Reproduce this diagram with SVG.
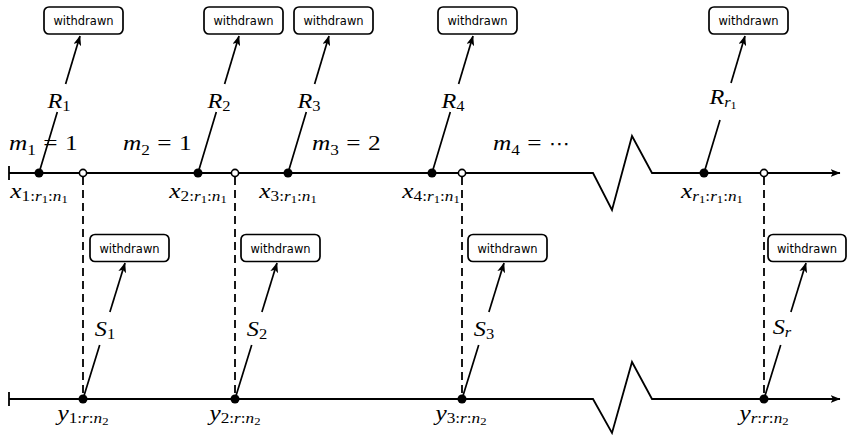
<svg xmlns="http://www.w3.org/2000/svg" width="847" height="438" viewBox="0 0 847 438">
<style>
.ax{fill:none;stroke:#000;stroke-width:1.8}
.ln{fill:none;stroke:#000;stroke-width:1.7}
.ar{fill:none;stroke:#000;stroke-width:1.7;marker-end:url(#ah)}
.dash{fill:none;stroke:#000;stroke-width:1.8;stroke-dasharray:8,5}
.box{fill:#fff;stroke:#000;stroke-width:1.7}
.bt{font-family:"DejaVu Sans",sans-serif;font-size:11.5px;text-anchor:middle;fill:#000}
.m{font-family:"Liberation Serif",serif;font-size:22px;font-style:italic;fill:#000}
.u{font-style:normal}
.s{font-size:15px}
.ss{font-size:11px}
.dot{fill:#000}
.oc{fill:#fff;stroke:#000;stroke-width:1.6}
</style>
<defs>
<marker id="ah" viewBox="0 0 10 8" refX="9.5" refY="4" markerWidth="10" markerHeight="8" markerUnits="userSpaceOnUse" orient="auto">
<path d="M0,0 L10,4 L0,8 L2.5,4 z" fill="#000"/>
</marker>
</defs>
<g id="connectors">
<path class="ax" d="M9,166 V180 M9,173 H593 L612,210 L632,136 L652,173 H840" marker-end="url(#ah)"/>
<path class="ax" d="M9,392 V406 M9,399 H593 L612,433 L632,362 L652,399 H840" marker-end="url(#ah)"/>
<path class="dash" d="M83,177 V399 M235,177 V399 M462,177 V399 M764,177 V399"/>
<path class="ln" d="M39,173 L57.3,112 M198,173 L216.3,112 M288,173 L306.3,112 M432,173 L450.3,112 M704,173 L720,120"/>
<path class="ar" d="M65.6,84 L80,36"/>
<path class="ar" d="M224.6,84 L239,36"/>
<path class="ar" d="M314.6,84 L329,36"/>
<path class="ar" d="M458.6,84 L473,36"/>
<path class="ar" d="M731,83 L745,36"/>
<path class="ln" d="M83,399 L99.7,345 M235,399 L251.7,345 M462,399 L478.7,345 M764,399 L780.7,345"/>
<path class="ar" d="M109.9,312 L125,263"/>
<path class="ar" d="M261.9,312 L277,263"/>
<path class="ar" d="M488.9,312 L504,263"/>
<path class="ar" d="M790.9,312 L806,263"/>
</g>
<g id="boxes">
<g id="w1"><rect class="box" x="44" y="7" width="79" height="27" rx="5"/><text class="bt" x="83.5" y="25">withdrawn</text></g>
<g id="w2"><rect class="box" x="204" y="7" width="79" height="27" rx="5"/><text class="bt" x="243.5" y="25">withdrawn</text></g>
<g id="w3"><rect class="box" x="294" y="7" width="79" height="27" rx="5"/><text class="bt" x="333.5" y="25">withdrawn</text></g>
<g id="w4"><rect class="box" x="438" y="7" width="79" height="27" rx="5"/><text class="bt" x="477.5" y="25">withdrawn</text></g>
<g id="w5"><rect class="box" x="709" y="7" width="79" height="27" rx="5"/><text class="bt" x="748.5" y="25">withdrawn</text></g>
<g id="w6"><rect class="box" x="90" y="234.5" width="79" height="27" rx="5"/><text class="bt" x="129.5" y="252.5">withdrawn</text></g>
<g id="w7"><rect class="box" x="241" y="234.5" width="79" height="27" rx="5"/><text class="bt" x="280.5" y="252.5">withdrawn</text></g>
<g id="w8"><rect class="box" x="468" y="234.5" width="79" height="27" rx="5"/><text class="bt" x="507.5" y="252.5">withdrawn</text></g>
<g id="w9"><rect class="box" x="768" y="234.5" width="78" height="27" rx="5"/><text class="bt" x="807" y="252.5">withdrawn</text></g>
</g>
<g id="points">
<circle class="dot" cx="39" cy="173" r="4.5"/>
<circle class="dot" cx="198" cy="173" r="4.5"/>
<circle class="dot" cx="288" cy="173" r="4.5"/>
<circle class="dot" cx="432" cy="173" r="4.5"/>
<circle class="dot" cx="704" cy="173" r="4.5"/>
<circle class="oc" cx="83" cy="173" r="3.6"/>
<circle class="oc" cx="235" cy="173" r="3.6"/>
<circle class="oc" cx="462" cy="173" r="3.6"/>
<circle class="oc" cx="764" cy="173" r="3.6"/>
<circle class="dot" cx="83" cy="399" r="4.5"/>
<circle class="dot" cx="235" cy="399" r="4.5"/>
<circle class="dot" cx="462" cy="399" r="4.5"/>
<circle class="dot" cx="764" cy="399" r="4.5"/>
</g>
<g id="labels">
<text class="m" text-anchor="middle" transform="translate(59,108) scale(1.1,1)">R<tspan class="s u" dy="3">1</tspan></text>
<text class="m" text-anchor="middle" transform="translate(219,108) scale(1.1,1)">R<tspan class="s u" dy="3">2</tspan></text>
<text class="m" text-anchor="middle" transform="translate(309,108) scale(1.1,1)">R<tspan class="s u" dy="3">3</tspan></text>
<text class="m" text-anchor="middle" transform="translate(453,108) scale(1.1,1)">R<tspan class="s u" dy="3">4</tspan></text>
<text class="m" text-anchor="middle" transform="translate(723,104) scale(1.1,1)">R<tspan class="s" dy="3">r</tspan><tspan class="ss u" dy="2">1</tspan></text>
<text class="m" transform="translate(9,150) scale(1.15,1)">m<tspan class="s u" dy="5">1</tspan><tspan class="u" dy="-5" dx="6.5">=</tspan><tspan class="u" dx="6.5">1</tspan></text>
<text class="m" transform="translate(123,150) scale(1.15,1)">m<tspan class="s u" dy="5">2</tspan><tspan class="u" dy="-5" dx="6.5">=</tspan><tspan class="u" dx="6.5">1</tspan></text>
<text class="m" transform="translate(312,150) scale(1.15,1)">m<tspan class="s u" dy="5">3</tspan><tspan class="u" dy="-5" dx="6.5">=</tspan><tspan class="u" dx="6.5">2</tspan></text>
<text class="m" transform="translate(493,150) scale(1.15,1)">m<tspan class="s u" dy="5">4</tspan><tspan class="u" dy="-5" dx="6.5">=</tspan><tspan class="u" dx="6.5" font-family="DejaVu Sans, sans-serif" font-size="18">⋯</tspan></text>
<text class="m" text-anchor="middle" transform="translate(39,198) scale(1.15,1)">x<tspan class="s u" dy="3">1:</tspan><tspan class="s">r</tspan><tspan class="ss u" dy="2">1</tspan><tspan class="s u" dy="-2">:</tspan><tspan class="s">n</tspan><tspan class="ss u" dy="2">1</tspan></text>
<text class="m" text-anchor="middle" transform="translate(198,198) scale(1.15,1)">x<tspan class="s u" dy="3">2:</tspan><tspan class="s">r</tspan><tspan class="ss u" dy="2">1</tspan><tspan class="s u" dy="-2">:</tspan><tspan class="s">n</tspan><tspan class="ss u" dy="2">1</tspan></text>
<text class="m" text-anchor="middle" transform="translate(288,198) scale(1.15,1)">x<tspan class="s u" dy="3">3:</tspan><tspan class="s">r</tspan><tspan class="ss u" dy="2">1</tspan><tspan class="s u" dy="-2">:</tspan><tspan class="s">n</tspan><tspan class="ss u" dy="2">1</tspan></text>
<text class="m" text-anchor="middle" transform="translate(431,198) scale(1.15,1)">x<tspan class="s u" dy="3">4:</tspan><tspan class="s">r</tspan><tspan class="ss u" dy="2">1</tspan><tspan class="s u" dy="-2">:</tspan><tspan class="s">n</tspan><tspan class="ss u" dy="2">1</tspan></text>
<text class="m" text-anchor="middle" transform="translate(712,198) scale(1.15,1)">x<tspan class="s" dy="3">r</tspan><tspan class="ss u" dy="2">1</tspan><tspan class="s u" dy="-2">:</tspan><tspan class="s">r</tspan><tspan class="ss u" dy="2">1</tspan><tspan class="s u" dy="-2">:</tspan><tspan class="s">n</tspan><tspan class="ss u" dy="2">1</tspan></text>
<text class="m" text-anchor="middle" transform="translate(105,336) scale(1.1,1)">S<tspan class="s u" dy="3">1</tspan></text>
<text class="m" text-anchor="middle" transform="translate(257,336) scale(1.1,1)">S<tspan class="s u" dy="3">2</tspan></text>
<text class="m" text-anchor="middle" transform="translate(484,336) scale(1.1,1)">S<tspan class="s u" dy="3">3</tspan></text>
<text class="m" text-anchor="middle" transform="translate(782,334) scale(1.1,1)">S<tspan class="s" dy="3">r</tspan></text>
<text class="m" text-anchor="middle" transform="translate(83,420) scale(1.15,1)">y<tspan class="s u" dy="3">1:</tspan><tspan class="s">r</tspan><tspan class="s u">:</tspan><tspan class="s">n</tspan><tspan class="ss u" dy="2">2</tspan></text>
<text class="m" text-anchor="middle" transform="translate(235,420) scale(1.15,1)">y<tspan class="s u" dy="3">2:</tspan><tspan class="s">r</tspan><tspan class="s u">:</tspan><tspan class="s">n</tspan><tspan class="ss u" dy="2">2</tspan></text>
<text class="m" text-anchor="middle" transform="translate(461,420) scale(1.15,1)">y<tspan class="s u" dy="3">3:</tspan><tspan class="s">r</tspan><tspan class="s u">:</tspan><tspan class="s">n</tspan><tspan class="ss u" dy="2">2</tspan></text>
<text class="m" text-anchor="middle" transform="translate(764,420) scale(1.15,1)">y<tspan class="s" dy="3">r</tspan><tspan class="s u">:</tspan><tspan class="s">r</tspan><tspan class="s u">:</tspan><tspan class="s">n</tspan><tspan class="ss u" dy="2">2</tspan></text>
</g>
</svg>
